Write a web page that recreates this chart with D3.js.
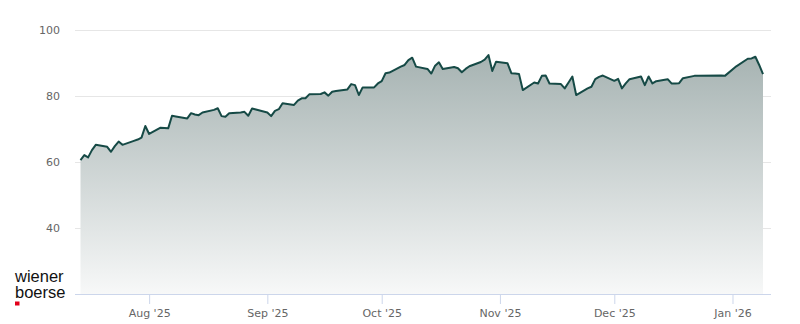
<!DOCTYPE html>
<html>
<head>
<meta charset="utf-8">
<script src="https://cdn.jsdelivr.net/npm/d3@7"></script>
<style>
  body { margin: 0; background: #fff; }
  svg { display: block; }
</style>
</head>
<body>
<div id="chart"></div>
<script>
// trading days and closing values
const dates = [
  "2025-07-14","2025-07-15","2025-07-16","2025-07-17","2025-07-18",
  "2025-07-21","2025-07-22","2025-07-23","2025-07-24","2025-07-25",
  "2025-07-28","2025-07-29","2025-07-30","2025-07-31","2025-08-01",
  "2025-08-04","2025-08-05","2025-08-06","2025-08-07","2025-08-08",
  "2025-08-11","2025-08-12","2025-08-13","2025-08-14","2025-08-15",
  "2025-08-18","2025-08-19","2025-08-20","2025-08-21","2025-08-22",
  "2025-08-25","2025-08-26","2025-08-27","2025-08-28","2025-08-29",
  "2025-09-01","2025-09-02","2025-09-03","2025-09-04","2025-09-05",
  "2025-09-08","2025-09-09","2025-09-10","2025-09-11","2025-09-12",
  "2025-09-15","2025-09-16","2025-09-17","2025-09-18","2025-09-19",
  "2025-09-22","2025-09-23","2025-09-24","2025-09-25","2025-09-26",
  "2025-09-29","2025-09-30","2025-10-01","2025-10-02","2025-10-03",
  "2025-10-06","2025-10-07","2025-10-08","2025-10-09","2025-10-10",
  "2025-10-13","2025-10-14","2025-10-15","2025-10-16","2025-10-17",
  "2025-10-20","2025-10-21","2025-10-22","2025-10-23","2025-10-24",
  "2025-10-27","2025-10-28","2025-10-29","2025-10-30","2025-10-31",
  "2025-11-03","2025-11-04","2025-11-05","2025-11-06","2025-11-07",
  "2025-11-10","2025-11-11","2025-11-12","2025-11-13","2025-11-14",
  "2025-11-17","2025-11-18","2025-11-19","2025-11-20","2025-11-21",
  "2025-11-24","2025-11-25","2025-11-26","2025-11-27","2025-11-28",
  "2025-12-01","2025-12-02","2025-12-03","2025-12-04","2025-12-05",
  "2025-12-08","2025-12-09","2025-12-10","2025-12-11","2025-12-12",
  "2025-12-15","2025-12-16","2025-12-17","2025-12-18","2025-12-19",
  "2025-12-22","2025-12-23","2025-12-29","2025-12-30",
  "2026-01-02","2026-01-05","2026-01-06","2026-01-07","2026-01-08","2026-01-09"
];
const values = [
  60.6, 62.1, 61.4, 63.6, 65.2,
  64.6, 63.1, 64.8, 66.2, 65.2,
  66.4, 66.8, 67.4, 70.9, 68.5,
  70.4, 70.3, 70.2, 74.0, 73.8,
  73.2, 74.8, 74.4, 74.2, 75.0,
  75.8, 76.3, 73.9, 73.7, 74.8,
  75.0, 75.2, 74.0, 76.2, 75.9,
  75.0, 73.9, 75.5, 76.0, 77.8,
  77.3, 78.6, 79.3, 79.3, 80.5,
  80.6, 81.1, 80.1, 81.3, 81.5,
  82.0, 83.6, 83.3, 80.3, 82.6,
  82.6, 83.8, 84.5, 86.9, 87.1,
  88.9, 89.4, 90.9, 91.6, 88.9,
  88.2, 86.8, 89.2, 90.2, 88.2,
  88.8, 88.4, 87.2, 88.2, 89.0,
  90.3, 91.0, 92.4, 87.6, 90.4,
  89.9, 86.9, 86.8, 86.7, 81.8,
  84.1, 83.8, 86.1, 86.2, 83.8,
  83.6, 82.3, 84.1, 85.9, 80.3,
  82.3, 82.8, 85.1, 85.8, 86.2,
  84.6, 85.2, 82.3, 83.8, 85.1,
  85.9, 83.3, 85.9, 83.8, 84.5,
  85.1, 83.8, 83.8, 83.9, 85.4,
  86.1, 86.1, 86.2, 86.1,
  89.0, 91.3, 91.4, 91.9, 89.4, 86.6
];
const yTicks = [40, 60, 80, 100];
const logoLines = ["wiener", "boerse"];

const parse = d3.timeParse("%Y-%m-%d");
const data = dates.map((d, i) => ({ date: parse(d), value: values[i] }));

const width = 800, height = 324;
const plotLeft = 75, plotRight = 771, plotTop = 30, plotBottom = 294;

const svg = d3.select("#chart").append("svg")
  .attr("width", width)
  .attr("height", height)
  .attr("viewBox", `0 0 ${width} ${height}`);

const x = d3.scaleTime()
  .domain(d3.extent(data, d => d.date))
  .range([80.5, 763]);

const y = d3.scaleLinear()
  .domain([20, 100])
  .range([plotBottom, plotTop]);

// gradient under the line
const defs = svg.append("defs");
const grad = defs.append("linearGradient")
  .attr("id", "areaFill")
  .attr("gradientUnits", "userSpaceOnUse")
  .attr("x1", 0).attr("y1", plotTop)
  .attr("x2", 0).attr("y2", plotBottom);
grad.append("stop").attr("offset", "0%").attr("stop-color", "#9eacab");
grad.append("stop").attr("offset", "100%").attr("stop-color", "#f7f8f8");

// horizontal grid + y labels
const yAxis = svg.append("g")
  .attr("transform", `translate(${plotLeft},0)`)
  .call(d3.axisLeft(y).tickValues(yTicks).tickSize(-(plotRight - plotLeft)).tickPadding(15));
yAxis.select(".domain").remove();
yAxis.selectAll(".tick line").attr("stroke", "#e6e6e6");
yAxis.selectAll(".tick text")
  .attr("fill", "#666")
  .style("font-family", "DejaVu Sans, sans-serif")
  .style("font-size", "11px");

// area and line
svg.append("path")
  .datum(data)
  .attr("fill", "url(#areaFill)")
  .attr("d", d3.area().x(d => x(d.date)).y0(plotBottom).y1(d => y(d.value)));

svg.append("path")
  .datum(data)
  .attr("fill", "none")
  .attr("stroke", "#164a46")
  .attr("stroke-width", 2)
  .attr("stroke-linejoin", "round")
  .attr("d", d3.line().x(d => x(d.date)).y(d => y(d.value)));

// x axis
const xAxis = svg.append("g")
  .attr("transform", `translate(0,${plotBottom})`)
  .call(d3.axisBottom(x)
    .ticks(d3.timeMonth.every(1))
    .tickFormat(d3.timeFormat("%b '%y"))
    .tickSize(10)
    .tickSizeOuter(0)
    .tickPadding(5));
xAxis.select(".domain")
  .attr("d", `M${plotLeft},0.5H${plotRight}`)
  .attr("stroke", "#ccd6eb");
xAxis.selectAll(".tick line").attr("stroke", "#ccd6eb");
xAxis.selectAll(".tick text")
  .attr("fill", "#666")
  .style("font-family", "DejaVu Sans, sans-serif")
  .style("font-size", "11px");

// logo (one text block, two lines)
const logo = svg.append("text")
  .attr("x", 15).attr("y", 282)
  .style("font-family", "Liberation Sans, Arial, sans-serif")
  .style("font-size", "16.5px")
  .attr("fill", "#111");
logo.selectAll("tspan")
  .data(logoLines)
  .join("tspan")
  .attr("x", 15)
  .attr("dy", (d, i) => i === 0 ? 0 : 15.5)
  .text(d => d);
svg.append("rect")
  .attr("x", 15).attr("y", 301.5)
  .attr("width", 4.5).attr("height", 4)
  .attr("fill", "#e2001a");
</script>
</body>
</html>
